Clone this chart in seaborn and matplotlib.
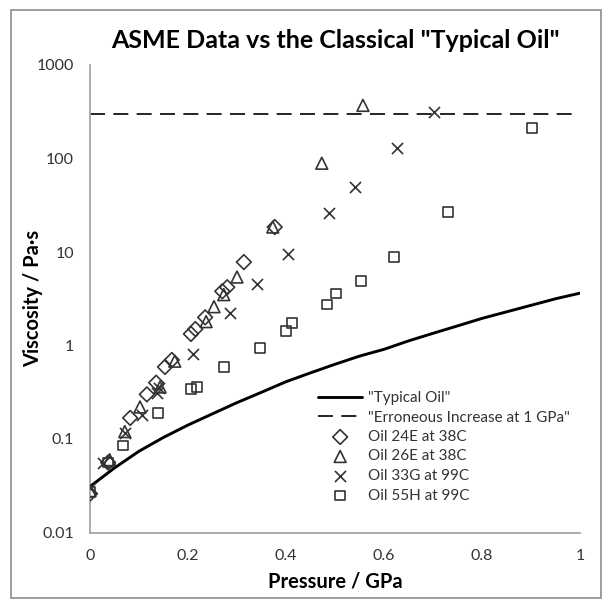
import matplotlib
matplotlib.use('Agg')
import matplotlib.pyplot as plt
import matplotlib.ticker as mticker
from matplotlib.patches import Rectangle
import seaborn as sns
import pandas as pd

# "Typical Oil" curve (GPa, Pa.s)
typ_p = [0, 0.05, 0.1, 0.15, 0.2, 0.25, 0.3, 0.35, 0.4, 0.45, 0.5,
         0.55, 0.6, 0.65, 0.7, 0.75, 0.8, 0.85, 0.9, 0.95, 1.0]
typ_eta = [0.031, 0.049, 0.074, 0.104, 0.141, 0.186, 0.245, 0.316, 0.41, 0.51, 0.63,
           0.77, 0.91, 1.12, 1.35, 1.62, 1.95, 2.29, 2.69, 3.16, 3.63]

# constant 300 Pa.s line
err_p = [0, 1.0]
err_eta = [300, 300]

oil24e_p = [0, 0.037, 0.082, 0.116, 0.135, 0.153, 0.167, 0.206, 0.215, 0.235, 0.27, 0.28, 0.314, 0.377]
oil24e_eta = [0.026, 0.056, 0.168, 0.30, 0.40, 0.59, 0.70, 1.33, 1.5, 2.0, 3.8, 4.2, 7.8, 18.5]

oil26e_p = [0, 0.04, 0.071, 0.102, 0.143, 0.173, 0.237, 0.253, 0.273, 0.30, 0.373, 0.473, 0.557]
oil26e_eta = [0.028, 0.06, 0.12, 0.22, 0.36, 0.68, 1.8, 2.6, 3.5, 5.4, 18.5, 89, 370]

oil33g_p = [0, 0.027, 0.071, 0.106, 0.137, 0.14, 0.21, 0.286, 0.34, 0.405, 0.488, 0.541, 0.626, 0.702]
oil33g_eta = [0.03, 0.055, 0.115, 0.18, 0.31, 0.35, 0.81, 2.2, 4.6, 9.6, 26, 50, 129, 315]

oil55h_p = [0, 0.037, 0.067, 0.139, 0.206, 0.218, 0.273, 0.347, 0.40, 0.412,
            0.484, 0.502, 0.553, 0.62, 0.731, 0.902]
oil55h_eta = [0.027, 0.056, 0.085, 0.19, 0.34, 0.36, 0.59, 0.94, 1.43, 1.74,
              2.75, 3.6, 4.9, 8.9, 27, 212]

sns.set_style('white')
plt.rcParams['font.family'] = ['Lato', 'DejaVu Sans']

fig = plt.figure(figsize=(6.1, 6.03), dpi=100)
ax = fig.add_axes([90 / 610, 1 - 532.5 / 603, 490 / 610, 467.5 / 603])

ink = '#333333'
axis_grey = '#a6a6a6'

sns.lineplot(x=typ_p, y=typ_eta, ax=ax, color='black', linewidth=2.1, label='"Typical Oil"')
sns.lineplot(x=err_p, y=err_eta, ax=ax, color='black', linewidth=1.2,
             label='"Erroneous Increase at 1 GPa"')
ax.lines[-1].set_dashes([9, 5])

series = [
    ('Oil 24E at 38C', oil24e_p, oil24e_eta, 'D', 7.5),
    ('Oil 26E at 38C', oil26e_p, oil26e_eta, '^', 8.5),
    ('Oil 33G at 99C', oil33g_p, oil33g_eta, 'x', 8),
    ('Oil 55H at 99C', oil55h_p, oil55h_eta, 's', 7),
]
for name, p, eta, mk, sz in series:
    df = pd.DataFrame({'p': p, 'eta': eta})
    if mk == 'x':
        sns.scatterplot(data=df, x='p', y='eta', ax=ax, marker=mk, s=sz ** 2,
                        color=ink, linewidth=1.2, label=name, zorder=3)
    else:
        sns.scatterplot(data=df, x='p', y='eta', ax=ax, marker=mk, s=sz ** 2,
                        facecolor='none', edgecolor=ink, linewidth=1.2, label=name, zorder=3)

ax.set_yscale('log')
ax.set_xlim(0, 1)
ax.set_ylim(0.01, 1000)
ax.xaxis.set_major_locator(mticker.MultipleLocator(0.2))
ax.xaxis.set_major_formatter(mticker.FuncFormatter(lambda v, _: f'{v:g}'))
ax.yaxis.set_major_locator(mticker.LogLocator(base=10))
ax.yaxis.set_minor_locator(mticker.LogLocator(base=10, subs=range(2, 10)))
ax.yaxis.set_major_formatter(mticker.FuncFormatter(lambda v, _: f'{v:g}'))
ax.yaxis.set_minor_formatter(mticker.NullFormatter())

for side in ['top', 'right']:
    ax.spines[side].set_visible(False)
for side in ['left', 'bottom']:
    ax.spines[side].set_color(axis_grey)
    ax.spines[side].set_linewidth(1.3)

ax.tick_params(axis='x', which='major', direction='in', length=6, width=1.2,
               color=axis_grey, labelsize=11.5, labelcolor=ink, pad=12)
ax.tick_params(axis='y', which='major', direction='inout', length=9, width=1.2,
               color=axis_grey, labelsize=11.5, labelcolor=ink, pad=7)
ax.tick_params(axis='y', which='minor', direction='out', length=4, width=1.0,
               color=axis_grey)

ax.set_xlabel('Pressure / GPa', fontsize=14.5, fontweight='bold', color='black')
ax.xaxis.set_label_coords(0.5, -(571 - 532.5) / 467.5)
ax.set_ylabel('Viscosity / Pa·s', fontsize=14.5, fontweight='bold', color='black')
ax.yaxis.set_label_coords(-(90 - 43) / 490, 1 - (298 - 65) / 467.5)
ax.set_title('ASME Data vs the Classical "Typical Oil"', fontsize=18, fontweight='bold',
             color='black', pad=12)

handles, labels = ax.get_legend_handles_labels()
leg = ax.legend(handles, labels, loc='upper left', frameon=False, fontsize=11,
                bbox_to_anchor=(318 / 610, 1 - 391 / 603), bbox_transform=fig.transFigure,
                borderpad=0, borderaxespad=0, handlelength=2.9, handletextpad=0.35,
                labelspacing=0.36)
for t in leg.get_texts():
    t.set_color(ink)

fig.patches.append(Rectangle((11 / 610, 5 / 603), 590 / 610, 588 / 603,
                             transform=fig.transFigure, fill=False,
                             edgecolor='#8c8c8c', linewidth=1.2))

plt.savefig('out.png', dpi=100)
plt.close()
